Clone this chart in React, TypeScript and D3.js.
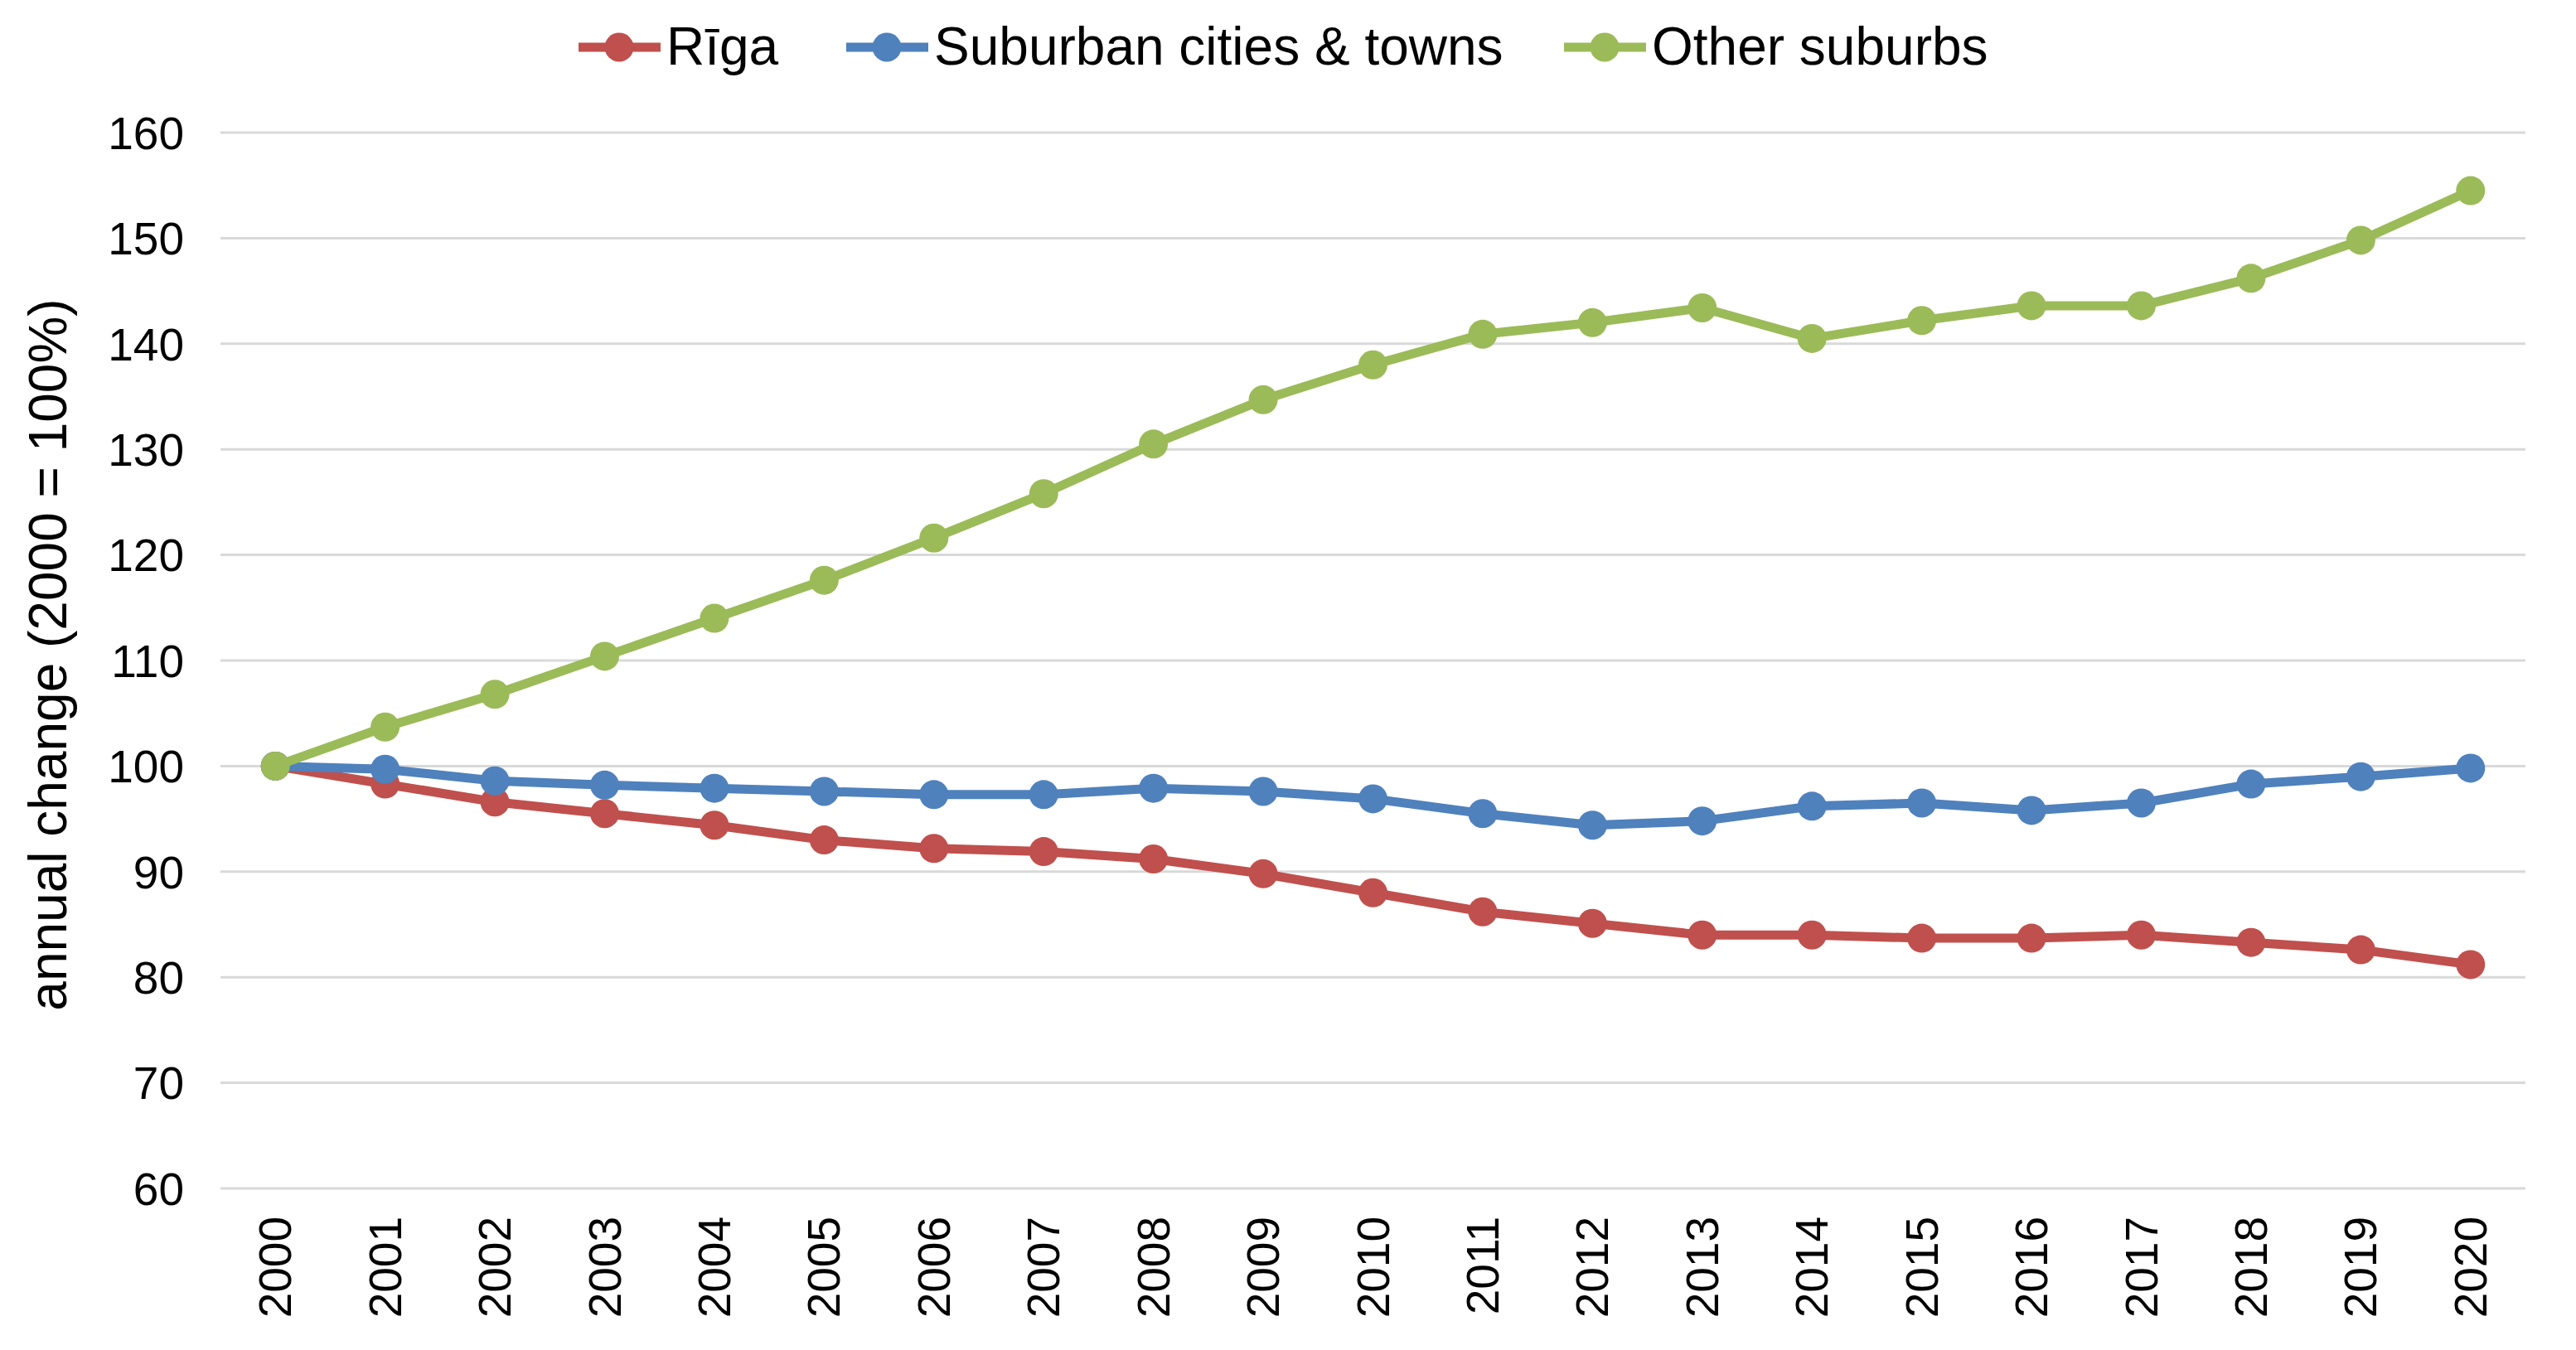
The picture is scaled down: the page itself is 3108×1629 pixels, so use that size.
import * as d3 from "d3";
import { useEffect } from "react";

const years = [
  "2000", "2001", "2002", "2003", "2004", "2005", "2006", "2007", "2008", "2009", "2010",
  "2011", "2012", "2013", "2014", "2015", "2016", "2017", "2018", "2019", "2020",
];

const riga = [
  100, 98.3, 96.6, 95.5, 94.4, 93.0, 92.2, 91.9, 91.2, 89.8, 88.0,
  86.2, 85.1, 84.0, 84.0, 83.7, 83.7, 84.0, 83.3, 82.6, 81.2,
];
const suburbanTowns = [
  100, 99.7, 98.6, 98.2, 97.9, 97.6, 97.3, 97.3, 97.9, 97.6, 96.9,
  95.5, 94.4, 94.8, 96.2, 96.5, 95.8, 96.5, 98.3, 99.0, 99.8,
];
const otherSuburbs = [
  100, 103.7, 106.8, 110.4, 114.0, 117.6, 121.6, 125.8, 130.5, 134.7, 138.0,
  140.9, 142.0, 143.4, 140.5, 142.2, 143.6, 143.6, 146.2, 149.8, 154.5,
];

const seriesNames = ["Rīga", "Suburban cities & towns", "Other suburbs"];
const seriesColors = ["#C0504D", "#4F81BD", "#9BBB59"];
const yTicks = [60, 70, 80, 90, 100, 110, 120, 130, 140, 150, 160];

const font = "'Liberation Sans', Arial, sans-serif";

export default function App() {
  useEffect(() => {
    document.body.style.margin = "0";
  }, []);

  const width = 3108;
  const height = 1629;
  const plot = { left: 266, right: 3047, top: 160, bottom: 1434 };

  const x = d3.scalePoint<string>().domain(years).range([plot.left, plot.right]).padding(0.5);
  const y = d3.scaleLinear().domain([60, 160]).range([plot.bottom, plot.top]);

  const line = d3
    .line<number>()
    .x((_, i) => x(years[i]) as number)
    .y((v) => y(v));

  const series = [riga, suburbanTowns, otherSuburbs];

  // legend item starts (line segment left edge)
  const legendX = [698, 1021, 1887];
  const legendY = 57;

  return (
    <svg width={width} height={height} style={{ display: "block", background: "#fff" }}>
      {yTicks.map((t) => (
        <g key={t}>
          <line x1={plot.left} x2={plot.right} y1={y(t)} y2={y(t)} stroke="#d9d9d9" strokeWidth={3} />
          <text
            x={222}
            y={y(t)}
            dy="0.36em"
            textAnchor="end"
            fontFamily={font}
            fontSize={55}
            fill="#000"
          >
            {t}
          </text>
        </g>
      ))}

      {years.map((yr) => (
        <text
          key={yr}
          transform={`translate(${(x(yr) as number) + 19}, 1468) rotate(-90)`}
          textAnchor="end"
          fontFamily={font}
          fontSize={55}
          fill="#000"
        >
          {yr}
        </text>
      ))}

      <text
        transform={`translate(80, ${790}) rotate(-90)`}
        textAnchor="middle"
        fontFamily={font}
        fontSize={64}
        fill="#000"
      >
        annual change (2000 = 100%)
      </text>

      {series.map((s, si) => (
        <g key={seriesNames[si]}>
          <path d={line(s) ?? ""} fill="none" stroke={seriesColors[si]} strokeWidth={11} strokeLinejoin="round" />
          {s.map((v, i) => (
            <circle key={i} cx={x(years[i]) as number} cy={y(v)} r={17.5} fill={seriesColors[si]} />
          ))}
        </g>
      ))}

      {seriesNames.map((name, i) => (
        <g key={name}>
          <line
            x1={legendX[i]}
            x2={legendX[i] + 99}
            y1={legendY}
            y2={legendY}
            stroke={seriesColors[i]}
            strokeWidth={11}
          />
          <circle cx={legendX[i] + 49} cy={legendY} r={17.5} fill={seriesColors[i]} />
          <text x={legendX[i] + 106} y={legendY + 21} fontFamily={font} fontSize={64} fill="#000">
            {name}
          </text>
        </g>
      ))}
    </svg>
  );
}
